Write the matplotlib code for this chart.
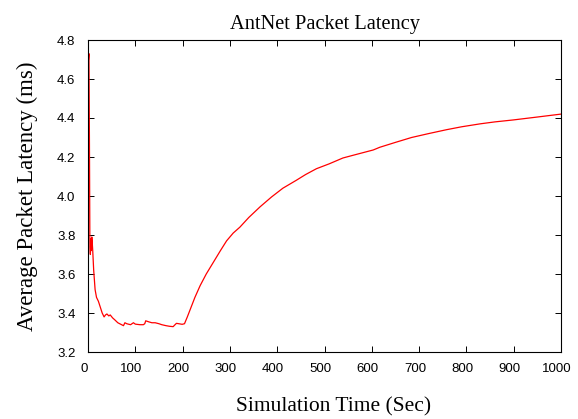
import matplotlib
matplotlib.use("Agg")
import matplotlib.pyplot as plt
from matplotlib.transforms import ScaledTranslation

title = "AntNet Packet Latency"
xlabel = "Simulation Time (Sec)"
ylabel = "Average Packet Latency (ms)"

time_sec = [1, 2, 3, 4, 5, 6, 7, 8, 9, 10, 12, 15, 18, 22, 26, 30, 34, 37, 40, 44,
            47, 52, 57, 63, 71, 75, 78, 82, 85, 90, 96, 100, 103, 110, 117, 120, 122,
            128, 135, 142, 150, 156, 165, 172, 180, 184, 187, 192, 199, 204, 210, 218,
            226, 237, 250, 265, 280, 293, 307, 321, 340, 364, 388, 412, 440, 460, 483,
            510, 539, 570, 603, 617, 650, 684, 720, 758, 790, 829, 860, 899, 950, 1000]
latency_ms = [4.70, 4.73, 4.30, 3.74, 3.70, 3.78, 3.72, 3.79, 3.76, 3.72, 3.62, 3.52,
              3.48, 3.46, 3.43, 3.40, 3.38, 3.39, 3.395, 3.385, 3.39, 3.375, 3.364,
              3.35, 3.34, 3.335, 3.35, 3.345, 3.343, 3.34, 3.35, 3.343, 3.342, 3.34,
              3.34, 3.345, 3.36, 3.355, 3.35, 3.35, 3.345, 3.34, 3.335, 3.332, 3.33,
              3.34, 3.347, 3.345, 3.342, 3.345, 3.38, 3.43, 3.48, 3.54, 3.60, 3.66,
              3.72, 3.77, 3.81, 3.84, 3.89, 3.945, 3.995, 4.04, 4.08, 4.11, 4.14,
              4.165, 4.195, 4.215, 4.236, 4.25, 4.275, 4.30, 4.32, 4.34, 4.355, 4.37,
              4.38, 4.39, 4.405, 4.42]

xticks = [0, 100, 200, 300, 400, 500, 600, 700, 800, 900, 1000]
yticks = [3.2, 3.4, 3.6, 3.8, 4.0, 4.2, 4.4, 4.6, 4.8]
ytick_labels = ["3.2", "3.4", "3.6", "3.8", "4.0", "4.2", "4.4", "4.6", "4.8"]

W, H = 578, 419
fig = plt.figure(figsize=(W / 100, H / 100), dpi=100)
ax = fig.add_axes([88 / W, 1 - 352 / H, (561 - 88) / W, (352 - 40) / H])

ax.plot(time_sec, latency_ms, color="#ff0000", linewidth=0.9)
ax.set_xlim(0, 1000)
ax.set_ylim(3.2, 4.8)
ax.set_xticks(xticks)
ax.set_xticklabels([str(t) for t in xticks])
ax.set_yticks(yticks)
ax.set_yticklabels(ytick_labels)

ax.tick_params(direction="in", length=4, width=0.7, top=True, right=True,
               labelsize=9.5, colors="black")
ax.tick_params(axis="x", pad=8)
ax.tick_params(axis="y", pad=9)
for lab in ax.get_xticklabels() + ax.get_yticklabels():
    lab.set_fontfamily("Liberation Sans")
for lab in ax.get_xticklabels():
    lab.set_transform(lab.get_transform() + ScaledTranslation(-4 / 100, 0, fig.dpi_scale_trans))
for sp in ax.spines.values():
    sp.set_linewidth(0.8)
    sp.set_color("black")

serif = "Liberation Serif"
ax.set_title(title, fontfamily=serif, fontsize=14.7, pad=8)
ax.set_xlabel(xlabel, fontfamily=serif, fontsize=15.5)
ax.set_ylabel(ylabel, fontfamily=serif, fontsize=16.5)
ax.xaxis.set_label_coords(0.52, -0.145)
ax.yaxis.set_label_coords(-0.106, 0.5)

fig.savefig("out.png", dpi=100)
